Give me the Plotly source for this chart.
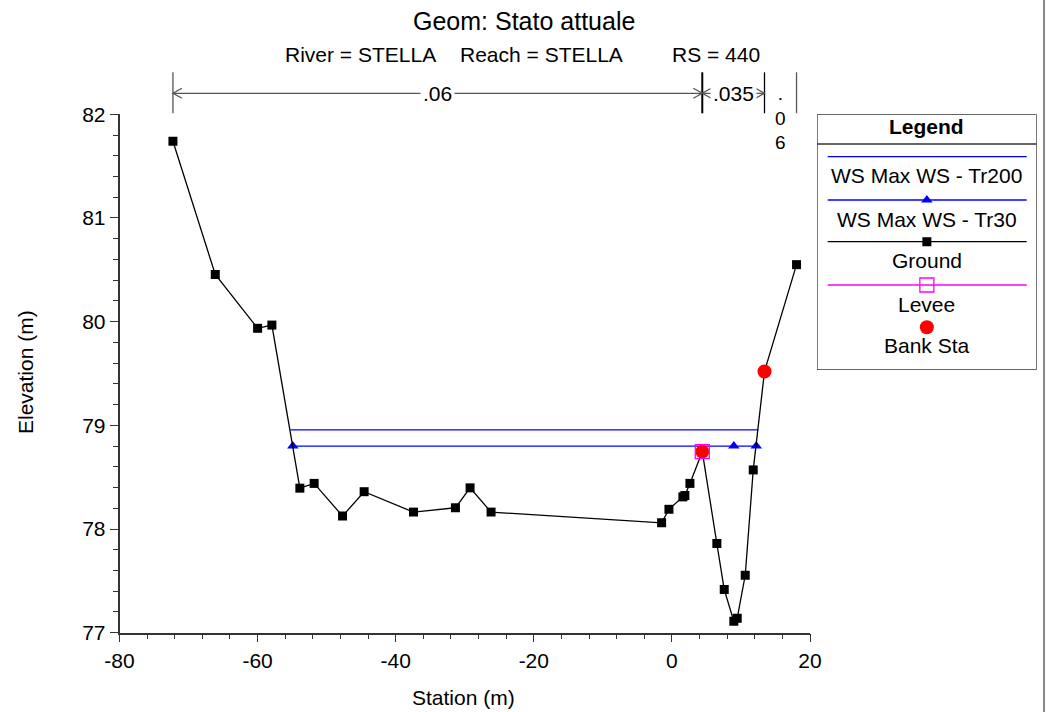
import plotly.graph_objects as go

# ---------------- data ----------------
ground_x = [-72.26, -66.13, -60.0, -57.93, -53.88, -51.81, -47.70, -44.57, -37.42,
            -31.35, -29.23, -26.19, -1.49, -0.43, 1.59, 1.88, 2.61, 4.40, 6.51,
            7.58, 8.97, 9.46, 10.62, 11.78, 13.41, 18.05]
ground_y = [81.74, 80.455, 79.936, 79.967, 78.394, 78.44, 78.125, 78.36, 78.163,
            78.205, 78.397, 78.163, 78.06, 78.19, 78.31, 78.323, 78.44, 78.746, 77.86,
            77.416, 77.11, 77.14, 77.554, 78.57, 79.52, 80.55]
tr200_x = [-55.25, 12.5]
tr200_y = [78.957, 78.957]
tr30_x = [-54.9, 8.97, 12.22]
tr30_y = [78.80, 78.80, 78.80]
levee_x = [4.40]
levee_y = [78.746]
bank_x = [4.40, 13.41]
bank_y = [78.746, 79.52]
n_labels = [".06", ".035", ".06"]
x_range = [-80, 20]
y_range = [77, 82]
x_tickvals = [-80, -60, -40, -20, 0, 20]
x_ticktext = ["-80", "-60", "-40", "-20", "0", "20"]
y_tickvals = [77, 78, 79, 80, 81, 82]
y_ticktext = ["77", "78", "79", "80", "81", "82"]

title = "Geom: Stato attuale"
sub_parts = ["River = STELLA", "Reach = STELLA", "RS = 440"]
legend_names = ["WS Max WS - Tr200", "WS Max WS - Tr30", "Ground", "Levee", "Bank Sta"]

# ---------------- layout helpers ----------------
W, H = 1046, 712
PL, PR, PB, PT = 119.5, 810.0, 632.7, 114.3   # plot area in pixels
FONT = "Liberation Sans, Arial, sans-serif"
FS = 21


def fx(p):
    return p / W


def fy(p):
    return 1 - p / H


fig = go.Figure()

# ---------------- data traces ----------------
fig.add_trace(go.Scatter(x=tr200_x, y=tr200_y, mode="lines",
                         line=dict(color="#0000FF", width=1.3), name=legend_names[0]))
fig.add_trace(go.Scatter(x=tr30_x, y=tr30_y, mode="lines+markers",
                         line=dict(color="#0000FF", width=1.3),
                         marker=dict(symbol="triangle-up", size=10, color="#0000FF"),
                         name=legend_names[1]))
fig.add_trace(go.Scatter(x=ground_x, y=ground_y, mode="lines+markers",
                         line=dict(color="black", width=1.3),
                         marker=dict(symbol="square", size=9, color="black"),
                         name=legend_names[2]))
fig.add_trace(go.Scatter(x=bank_x, y=bank_y, mode="markers",
                         marker=dict(symbol="circle", size=14, color="#FF0000"),
                         name=legend_names[4]))
fig.add_trace(go.Scatter(x=levee_x, y=levee_y, mode="markers",
                         marker=dict(symbol="square-open", size=14, color="#FF00FF",
                                     line=dict(width=1.3)),
                         name=legend_names[3]))

# ---------------- axes ----------------
axis_common = dict(showgrid=False, zeroline=False, showline=True, linecolor="#333",
                   linewidth=1.5, ticks="outside", ticklen=8, tickwidth=1.3,
                   tickcolor="#333", automargin=False,
                   tickfont=dict(size=FS, family=FONT, color="black"))
fig.update_xaxes(domain=[fx(PL), fx(PR)], range=x_range, tickmode="array",
                 tickvals=x_tickvals, ticktext=x_ticktext,
                 minor=dict(tickmode="linear", tick0=0, dtick=4, ticks="outside",
                            ticklen=5, tickcolor="#333", tickwidth=1.2, showgrid=False),
                 anchor="y", **axis_common)
fig.update_yaxes(domain=[fy(PB), fy(PT)], range=y_range, tickmode="array",
                 tickvals=y_tickvals, ticktext=y_ticktext,
                 minor=dict(tickmode="linear", tick0=0, dtick=0.2, ticks="outside",
                            ticklen=5, tickcolor="#333", tickwidth=1.2, showgrid=False),
                 anchor="x", **axis_common)

# legend panel axes (pixel coordinates inside the legend box)
LB = dict(x0=817, x1=1036.7, y0=114.3, y1=370)
fig.update_layout(
    xaxis2=dict(domain=[fx(LB["x0"]), fx(LB["x1"])], range=[LB["x0"], LB["x1"]],
                visible=False, anchor="y2", fixedrange=True, automargin=False),
    yaxis2=dict(domain=[fy(LB["y1"]), fy(LB["y0"])], range=[LB["y1"], LB["y0"]],
                visible=False, anchor="x2", fixedrange=True, automargin=False),
)

shapes = []
annotations = []

# ---------------- titles ----------------
annotations.append(dict(text=title, x=fx(524), y=fy(21), xref="paper", yref="paper",
                        showarrow=False, font=dict(size=25, family=FONT, color="black"),
                        xanchor="center", yanchor="middle"))
for txt, cx in zip(sub_parts, [360.5, 541.5, 716.0]):
    annotations.append(dict(text=txt, x=fx(cx), y=fy(54), xref="paper", yref="paper",
                            showarrow=False, font=dict(size=FS, family=FONT, color="black"),
                            xanchor="center", yanchor="middle"))
annotations.append(dict(text="Station (m)", x=fx(463), y=fy(697), xref="paper",
                        yref="paper", showarrow=False,
                        font=dict(size=FS, family=FONT, color="black"),
                        xanchor="center", yanchor="middle"))
annotations.append(dict(text="Elevation (m)", x=fx(25), y=fy(372), xref="paper",
                        yref="paper", showarrow=False, textangle=-90,
                        font=dict(size=FS, family=FONT, color="black"),
                        xanchor="center", yanchor="middle"))

# ---------------- Manning's n regions on top ----------------
bounds = [ground_x[0], bank_x[0], bank_x[1], ground_x[-1]]
y_arrow = fy(93.3)
y_top, y_bot = fy(72.3), fy(113.3)
dx = 1.3                 # chevron length in station units
dh = 5.0 / H             # chevron half height in paper units
for i, b in enumerate(bounds):
    dark = i in (1, 2)
    shapes.append(dict(type="line", xref="x", yref="paper", x0=b, x1=b, y0=y_bot,
                       y1=y_top, line=dict(color="black" if dark else "#555",
                                           width=2 if i == 1 else 1.3)))
for i in range(3):
    a, b = bounds[i], bounds[i + 1]
    mid = (a + b) / 2
    if b - a > 6:
        shapes.append(dict(type="line", xref="x", yref="paper", x0=a, x1=b,
                           y0=y_arrow, y1=y_arrow, line=dict(color="#555", width=1.3)))
        shapes.append(dict(type="path", xref="x", yref="paper",
                           path=f"M {a + dx},{y_arrow + dh} L {a},{y_arrow} L {a + dx},{y_arrow - dh}",
                           line=dict(color="#555", width=1.3)))
        shapes.append(dict(type="path", xref="x", yref="paper",
                           path=f"M {b - dx},{y_arrow + dh} L {b},{y_arrow} L {b - dx},{y_arrow - dh}",
                           line=dict(color="#555", width=1.3)))
        annotations.append(dict(text=n_labels[i], x=mid, y=y_arrow, xref="x", yref="paper",
                                showarrow=False, bgcolor="white", borderpad=2,
                                font=dict(size=FS, family=FONT, color="black"),
                                xanchor="center", yanchor="middle"))
    else:
        annotations.append(dict(text="<br>".join(list(n_labels[i])), x=mid, y=fy(81),
                                xref="x", yref="paper", showarrow=False,
                                font=dict(size=19, family=FONT, color="black"),
                                xanchor="center", yanchor="top"))

# ---------------- custom legend ----------------
cx = (LB["x0"] + LB["x1"]) / 2
lx0, lx1 = 827.7, 1026.7
shapes.append(dict(type="rect", xref="x2", yref="y2", x0=LB["x0"], x1=LB["x1"],
                   y0=LB["y0"], y1=LB["y1"], line=dict(color="#333", width=1.3),
                   fillcolor="white", layer="below"))
shapes.append(dict(type="line", xref="x2", yref="y2", x0=LB["x0"], x1=LB["x1"],
                   y0=144, y1=144, line=dict(color="#333", width=1.3)))
annotations.append(dict(text="<b>Legend</b>", x=cx, y=127, xref="x2", yref="y2",
                        showarrow=False, font=dict(size=FS, family=FONT, color="black"),
                        xanchor="center", yanchor="middle"))

leg_line_y = [156.7, 200.0, 241.7, 285.0, None]
leg_text_y = [175.7, 219.3, 260.0, 304.0, 345.7]
leg_colors = ["#0000FF", "#0000FF", "black", "#FF00FF", None]
for ly, col in zip(leg_line_y, leg_colors):
    if ly is not None:
        shapes.append(dict(type="line", xref="x2", yref="y2", x0=lx0, x1=lx1, y0=ly,
                           y1=ly, line=dict(color=col, width=1.3)))
for txt, ty in zip(legend_names, leg_text_y):
    annotations.append(dict(text=txt, x=cx, y=ty, xref="x2", yref="y2", showarrow=False,
                            font=dict(size=FS, family=FONT, color="black"),
                            xanchor="center", yanchor="middle"))

fig.add_trace(go.Scatter(x=[cx], y=[200.0], xaxis="x2", yaxis="y2", mode="markers",
                         marker=dict(symbol="triangle-up", size=10, color="#0000FF"),
                         hoverinfo="skip", showlegend=False))
fig.add_trace(go.Scatter(x=[cx], y=[241.7], xaxis="x2", yaxis="y2", mode="markers",
                         marker=dict(symbol="square", size=9, color="black"),
                         hoverinfo="skip", showlegend=False))
fig.add_trace(go.Scatter(x=[cx], y=[285.0], xaxis="x2", yaxis="y2", mode="markers",
                         marker=dict(symbol="square-open", size=14, color="#FF00FF",
                                     line=dict(width=1.3)),
                         hoverinfo="skip", showlegend=False))
fig.add_trace(go.Scatter(x=[cx], y=[327.3], xaxis="x2", yaxis="y2", mode="markers",
                         marker=dict(symbol="circle", size=14, color="#FF0000"),
                         hoverinfo="skip", showlegend=False))

# window border on the right
shapes.append(dict(type="line", xref="paper", yref="paper", x0=fx(1044), x1=fx(1044),
                   y0=0, y1=1, line=dict(color="#888", width=2)))

fig.update_layout(template="none", width=W, height=H,
                  margin=dict(l=0, r=0, t=0, b=0, autoexpand=False),
                  paper_bgcolor="white", plot_bgcolor="rgba(0,0,0,0)",
                  showlegend=False, shapes=shapes, annotations=annotations,
                  font=dict(family=FONT, size=FS, color="black"))

fig.write_html("out.html",
               config={"displayModeBar": False},
               post_script="document.body.style.margin='0';"
                           "document.body.style.overflow='hidden';")
